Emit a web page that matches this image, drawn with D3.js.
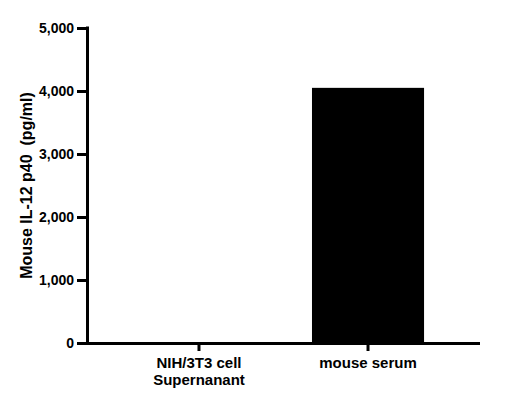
<!DOCTYPE html>
<html><head><meta charset="utf-8">
<script src="https://cdn.jsdelivr.net/npm/d3@7"></script>
<style>body{margin:0;background:#fff}svg{display:block}</style>
</head><body>
<script>
const categories = [["NIH/3T3 cell","Supernanant"],["mouse serum"]];
const values = [0, 4050];
const yTicks = [0, 1000, 2000, 3000, 4000, 5000];
const yLabel = "Mouse IL-12 p40\u00a0\u00a0(pg/ml)";

const W = 526, H = 414;
const m = {left: 87, right: 46, top: 28, bottom: 71};
const svg = d3.select("body").append("svg").attr("width", W).attr("height", H);
const font = "Arial, 'Liberation Sans', Helvetica, sans-serif";

const x = d3.scaleBand().domain(d3.range(categories.length))
  .range([m.left, W - m.right]).paddingInner(0.337).paddingOuter(0.331);
const y = d3.scaleLinear().domain([0, 5000]).range([H - m.bottom, m.top]);

svg.append("g").selectAll("rect").data(values).join("rect")
  .attr("x", (d,i) => x(i)).attr("width", x.bandwidth())
  .attr("y", d => y(d)).attr("height", d => y(0) - y(d))
  .attr("fill", "#000");

const yAxis = svg.append("g").attr("transform", `translate(${m.left},0)`)
  .call(d3.axisLeft(y).tickValues(yTicks).tickFormat(d3.format(",")).tickSize(10).tickPadding(3).tickSizeOuter(0));
yAxis.select(".domain").attr("stroke-width", 3).attr("d", `M0.5,${y(5000)-1.5}V${y(0)+1.5}`);
yAxis.selectAll(".tick line").attr("stroke-width", 3);
yAxis.selectAll(".tick text").attr("font-family", font).attr("font-weight", "bold").attr("font-size", 14).attr("fill", "#000");

const xAxis = svg.append("g").attr("transform", `translate(0,${y(0)})`)
  .call(d3.axisBottom(x).tickSize(8).tickSizeOuter(0).tickFormat(""));
xAxis.select(".domain").attr("stroke-width", 3).attr("d", `M${m.left-1},0.5H${W - m.right}`);
xAxis.selectAll(".tick line").attr("stroke-width", 3);
xAxis.selectAll(".tick").each(function(d) {
  const t = d3.select(this).append("text").attr("font-family", font).attr("font-weight", "bold")
    .attr("font-size", 15).attr("fill", "#000").attr("text-anchor", "middle");
  categories[d].forEach((line, k) => t.append("tspan").attr("x", 0).attr("y", 25 + k * 17).text(line));
});

svg.append("text").attr("transform", `translate(31.5,${(y(0)+y(5000))/2}) rotate(-90)`)
  .attr("text-anchor", "middle").attr("font-family", font).attr("font-weight", "bold")
  .attr("font-size", 16).attr("fill", "#000").text(yLabel);
</script>
</body></html>
